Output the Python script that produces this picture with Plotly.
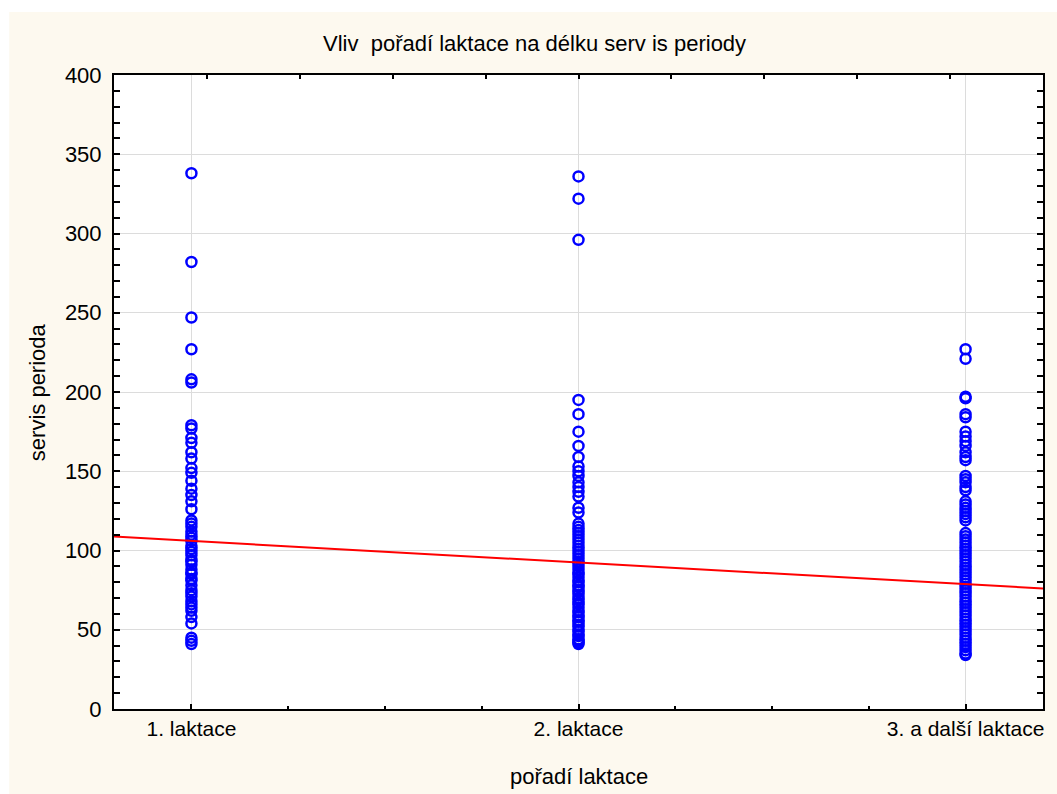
import plotly.graph_objects as go

# --- data -------------------------------------------------------------
categories = ["1. laktace", "2. laktace", "3. a další laktace"]
category_pos = [1, 2, 3]

servis_lakt1 = [338, 282, 247, 227, 208, 206, 179, 177, 171, 168, 162, 158,
                152, 149, 144, 139, 135, 131, 126, 119, 117, 115, 112, 110,
                108, 106, 103, 101, 99, 97, 94, 93, 91, 88, 86, 85, 82, 81,
                78, 75, 73, 71, 68, 66, 64, 62, 58, 54, 45, 43, 41]

servis_lakt2 = [336, 322, 296, 195, 186, 175, 166, 159, 153, 150, 147, 143,
                140, 137, 134, 127, 124, 117, 115, 113, 111, 109, 107, 105,
                103, 101, 99, 97, 95, 93, 92, 90, 88, 86, 85, 83, 81, 80, 78,
                77, 75, 74, 72, 70, 69, 67, 66, 64, 62, 61, 59, 58, 56, 55,
                53, 52, 50, 49, 47, 46, 44, 43, 42, 41]

servis_lakt3 = [227, 221, 197, 196, 186, 184, 175, 172, 169, 166, 162, 159,
                157, 147, 145, 143, 140, 138, 131, 129, 127, 125, 123, 121,
                119, 111, 109, 107, 105, 103, 101, 99, 97, 95, 93, 91, 89, 87,
                85, 83, 81, 79, 77, 75, 73, 71, 69, 67, 65, 63, 61, 59, 57,
                55, 53, 51, 49, 47, 45, 43, 41, 39, 37, 35, 34]

groups = [servis_lakt1, servis_lakt2, servis_lakt3]

# linear fit shown over the scatter
fit_intercept = 119.7
fit_slope = -13.65

y_ticks = [0, 50, 100, 150, 200, 250, 300, 350, 400]

# --- figure -----------------------------------------------------------
X_RANGE = [0.8, 3.2]
FONT = "Liberation Sans, Arial, sans-serif"
CREAM = "#FDF9EF"

xs, ys = [], []
for pos, vals in zip(category_pos, groups):
    xs += [pos] * len(vals)
    ys += vals

fig = go.Figure()

fig.add_trace(go.Scatter(
    x=xs, y=ys, mode="markers",
    marker=dict(symbol="circle-open", size=10, color="#0000FF",
                line=dict(width=2.5, color="#0000FF")),
    showlegend=False, hoverinfo="x+y",
))

fit_x = list(X_RANGE)
fit_y = [fit_intercept + fit_slope * v for v in fit_x]
fig.add_trace(go.Scatter(
    x=fit_x, y=fit_y, mode="lines",
    line=dict(color="#FF0000", width=2),
    showlegend=False, hoverinfo="skip",
))

# unlabelled tick scale along the top frame
fig.add_trace(go.Scatter(x=[None], y=[None], xaxis="x2", showlegend=False))

fig.update_layout(
    width=1057, height=794,
    margin=dict(l=114, r=12, t=75, b=85),
    paper_bgcolor=CREAM,
    plot_bgcolor="white",
    font=dict(family=FONT, size=22, color="black"),
    xaxis=dict(
        range=X_RANGE,
        tickmode="array", tickvals=category_pos, ticktext=categories,
        ticks="inside", ticklen=5, tickwidth=2, tickcolor="black",
        minor=dict(dtick=0.25, tick0=0, ticks="inside", ticklen=3,
                   tickwidth=2, tickcolor="black", showgrid=False),
        showgrid=True, gridcolor="#DCDCDC", gridwidth=1,
        showline=True, linecolor="black", linewidth=2, mirror=True,
        zeroline=False,
        tickfont=dict(size=21, family=FONT),
    ),
    xaxis2=dict(
        overlaying="x", side="top", range=[0, 10],
        tickmode="linear", tick0=0, dtick=1,
        ticks="inside", ticklen=4, tickwidth=2, tickcolor="black",
        showticklabels=False, showgrid=False, showline=False,
        zeroline=False,
    ),
    yaxis=dict(
        range=[0, 400],
        tickmode="array", tickvals=y_ticks,
        ticks="inside", ticklen=6, tickwidth=2, tickcolor="black",
        minor=dict(dtick=10, tick0=0, ticks="inside", ticklen=3,
                   tickwidth=2, tickcolor="black", showgrid=False),
        showgrid=True, gridcolor="#DCDCDC", gridwidth=1,
        showline=True, linecolor="black", linewidth=2, mirror="allticks",
        zeroline=False,
        tickfont=dict(size=22, family=FONT),
        ticklabelstandoff=6,
    ),
    # thin white margin along the top and left edges of the page
    shapes=[
        dict(type="rect", xref="paper", yref="paper",
             x0=-0.2, x1=1.1, y0=1.0994, y1=1.2,
             fillcolor="white", line=dict(width=0), layer="below"),
        dict(type="rect", xref="paper", yref="paper",
             x0=-0.2, x1=-0.1128, y0=-0.2, y1=1.2,
             fillcolor="white", line=dict(width=0), layer="below"),
    ],
    annotations=[
        dict(text="Vliv  pořadí laktace na délku serv is periody",
             xref="paper", yref="paper", x=0.4522, y=1.0489,
             xanchor="center", yanchor="middle", showarrow=False,
             font=dict(size=22, family=FONT)),
        dict(text="pořadí laktace",
             xref="paper", yref="paper", x=0.5005, y=-0.1057,
             xanchor="center", yanchor="middle", showarrow=False,
             font=dict(size=22, family=FONT)),
        dict(text="servis perioda", textangle=-90,
             xref="paper", yref="paper", x=-0.0827, y=0.5,
             xanchor="center", yanchor="middle", showarrow=False,
             font=dict(size=22, family=FONT)),
    ],
)

fig.write_html("out.html")
